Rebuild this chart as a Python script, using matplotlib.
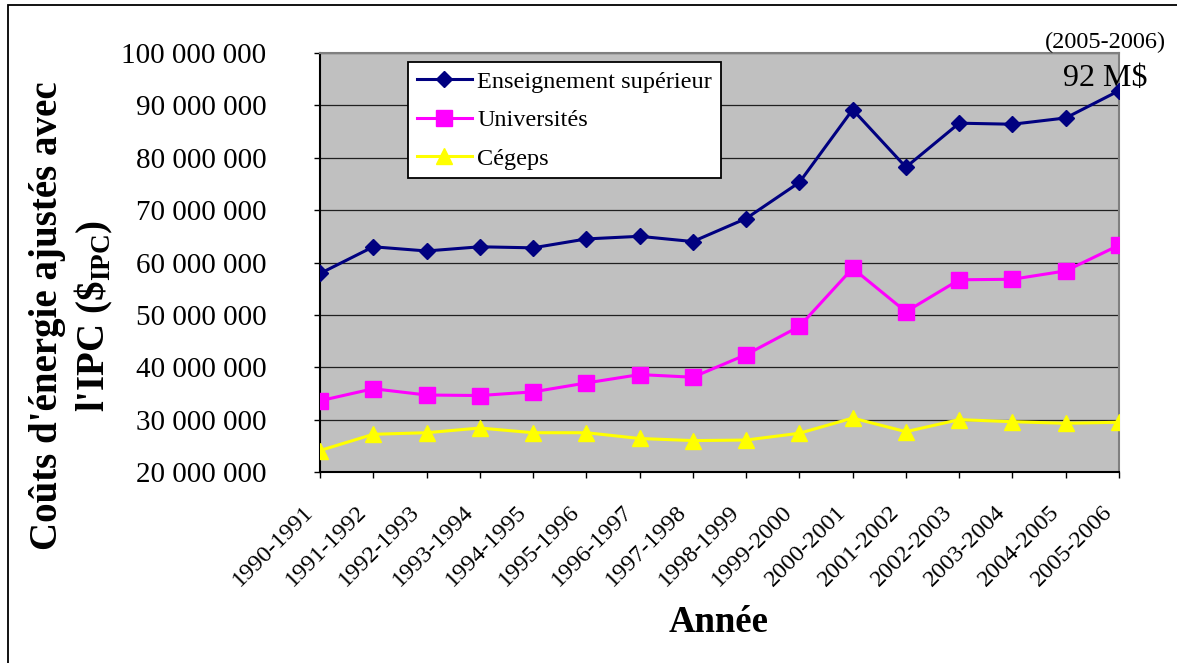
import matplotlib
matplotlib.use("Agg")
import matplotlib.pyplot as plt
from matplotlib.patches import Rectangle
from matplotlib.ticker import FuncFormatter, FixedLocator
from matplotlib.transforms import ScaledTranslation

plt.rcParams['font.family'] = ['Liberation Serif', 'DejaVu Serif']
plt.rcParams['mathtext.fontset'] = 'custom'
plt.rcParams['mathtext.rm'] = 'Liberation Serif'
plt.rcParams['mathtext.bf'] = 'Liberation Serif:bold'

years = ["1990-1991", "1991-1992", "1992-1993", "1993-1994", "1994-1995",
         "1995-1996", "1996-1997", "1997-1998", "1998-1999", "1999-2000",
         "2000-2001", "2001-2002", "2002-2003", "2003-2004", "2004-2005",
         "2005-2006"]

enseignement = [57.9, 63.0, 62.2, 63.0, 62.8, 64.5, 65.0, 64.0, 68.4, 75.3,
                89.2, 78.2, 86.6, 86.4, 87.6, 92.8]
universites = [33.6, 35.9, 34.7, 34.6, 35.3, 37.0, 38.6, 38.1, 42.4, 47.8,
               58.9, 50.6, 56.7, 56.8, 58.4, 63.3]
cegeps = [24.1, 27.2, 27.5, 28.4, 27.5, 27.5, 26.4, 26.0, 26.1, 27.4,
          30.3, 27.7, 30.0, 29.6, 29.3, 29.5]

series_names = ["Enseignement supérieur", "Universités", "Cégeps"]
y_ticks = [20, 30, 40, 50, 60, 70, 80, 90, 100]

W, H = 1177, 663
fig = plt.figure(figsize=(W / 100, H / 100), dpi=100)
ax = fig.add_axes([320 / W, 1 - 472 / H, (1119 - 320) / W, (472 - 53) / H])
ax.set_facecolor('#C0C0C0')

x = list(range(len(years)))
scale = 1e6
ax.plot(x, [v * scale for v in enseignement], color='#000080', lw=2.2,
        marker='D', ms=8, label=series_names[0], zorder=5)
ax.plot(x, [v * scale for v in universites], color='#FF00FF', lw=2.2,
        marker='s', ms=11, label=series_names[1], zorder=4)
ax.plot(x, [v * scale for v in cegeps], color='#FFFF00', lw=2.2,
        marker='^', ms=12, label=series_names[2], zorder=3)

ax.set_xlim(0, len(years) - 1)
ax.set_ylim(20e6, 100e6)
ax.yaxis.set_major_locator(FixedLocator([t * scale for t in y_ticks]))
ax.yaxis.set_major_formatter(FuncFormatter(lambda v, p: f"{int(round(v)):,}".replace(",", " ")))
ax.set_xticks(x)
ax.tick_params(axis='x', direction='out', length=4.5, width=1, pad=22, colors='black')
ax.tick_params(axis='y', direction='out', length=4.5, width=1, pad=34, labelsize=21)
ax.set_xticklabels(years, rotation=45, ha='right', va='center',
                   rotation_mode='anchor', fontsize=17.5)
shift = ScaledTranslation(-10 / 100, 0, fig.dpi_scale_trans)
for t in ax.xaxis.get_major_ticks():
    t.label1.set_transform(t.label1.get_transform() + shift)
ax.grid(axis='y', color='#202020', lw=0.9)
ax.set_axisbelow(True)

for s in ['left', 'bottom']:
    ax.spines[s].set_color('black')
    ax.spines[s].set_linewidth(1.5)
for s in ['top', 'right']:
    ax.spines[s].set_color('#808080')
    ax.spines[s].set_linewidth(1.5)

leg = ax.legend(loc='upper left', bbox_to_anchor=(408 / W, 1 - 62 / H),
                bbox_transform=fig.transFigure, fontsize=17.5, frameon=True,
                fancybox=False, shadow=False, handlelength=2.3,
                handletextpad=0.2, borderpad=0.35, labelspacing=0.68,
                borderaxespad=0)
leg.get_frame().set_edgecolor('black')
leg.get_frame().set_linewidth(1.3)
leg.get_frame().set_facecolor('white')
leg.get_frame().set_alpha(1)

fig.text(72 / W, 1 - 316 / H,
         "Coûts d'énergie ajustés avec\nl'IPC (\\$$_{\\mathbf{IPC}}$)",
         rotation=90, ha='center', va='center', fontsize=28,
         fontweight='bold', multialignment='center', linespacing=1.22)
fig.text(719 / W, 1 - 623 / H, "Année", ha='center', va='center',
         fontsize=26.5, fontweight='bold')
fig.text(1105 / W, 1 - 42 / H, "(2005-2006)", ha='center', va='center',
         fontsize=17.5)
fig.text(1105 / W, 1 - 78 / H, "92 M$", ha='center', va='center',
         fontsize=23)

fig.add_artist(Rectangle((8 / W, -0.05), 1.1, (663 - 5) / H + 0.05,
                         transform=fig.transFigure, fill=False,
                         edgecolor='black', lw=1.3))

fig.savefig("out.png", dpi=100)
